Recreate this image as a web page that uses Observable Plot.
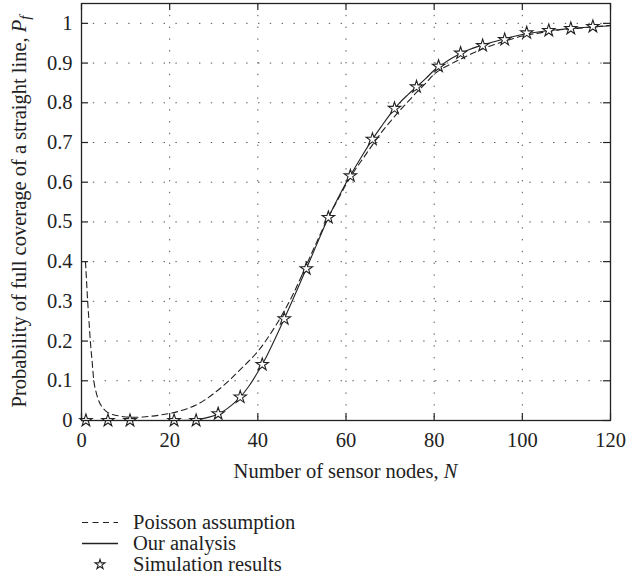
<!DOCTYPE html>
<html>
<head>
<meta charset="utf-8">
<script src="https://cdn.jsdelivr.net/npm/d3@7"></script>
<script src="https://cdn.jsdelivr.net/npm/@observablehq/plot@0.6"></script>
<style>
  html, body { margin: 0; padding: 0; background: #fff; }
  body { width: 638px; height: 583px; overflow: hidden; font-family: "Liberation Serif", serif; }
  #legend { position: relative; margin-top: 0; }
  .row { display: flex; align-items: center; height: 21px; }
  .row svg { display: block; }
  .row span { font-size: 20.5px; color: #222; }
</style>
</head>
<body>
<div id="chart"></div>
<div id="legend"></div>
<script>
// ---- data ----
const xTicks = [0, 20, 40, 60, 80, 100, 120];
const yTicks = [0, 0.1, 0.2, 0.3, 0.4, 0.5, 0.6, 0.7, 0.8, 0.9, 1];

const simX = [1, 6, 11, 21, 26, 31, 36, 41, 46, 51, 56, 61, 66, 71, 76, 81, 86, 91, 96, 101, 106, 111, 116];
const simY = [0, 0, 0, 0, 0, 0.017, 0.059, 0.141, 0.256, 0.382, 0.511, 0.616, 0.708, 0.786, 0.840, 0.892, 0.925, 0.944, 0.959, 0.976, 0.982, 0.987, 0.992];

const analysisX = [0, 5, 10, 15, 20, 24, 26, 28, 30, 32, 34, 36, 38, 40, 42, 44, 46, 48, 50, 52, 54, 56, 58, 60, 62, 64, 66, 68, 70, 72, 74, 76, 78, 80, 82, 84, 86, 88, 90, 92, 94, 96, 98, 100, 104, 108, 112, 116, 120];
const analysisY = [0, 0, 0, 0, 0, 0.0005, 0.002, 0.006, 0.012, 0.022, 0.038, 0.059, 0.087, 0.122, 0.162, 0.208, 0.256, 0.306, 0.357, 0.408, 0.46, 0.511, 0.556, 0.598, 0.636, 0.673, 0.708, 0.74, 0.771, 0.798, 0.82, 0.840, 0.86, 0.882, 0.898, 0.912, 0.924, 0.934, 0.942, 0.949, 0.955, 0.961, 0.967, 0.972, 0.979, 0.984, 0.988, 0.991, 0.994];

const poissonX = [0.9, 1.1, 1.4, 1.7, 2.0, 2.4, 2.8, 3.3, 3.9, 4.6, 5.4, 6.5, 8, 10, 12, 14, 16, 18, 20, 22, 24, 26, 28, 30, 32, 34, 36, 38, 40, 42, 44, 46, 48, 50, 52, 54, 56, 58, 60, 62, 64, 66, 68, 70, 72, 74, 76, 78, 80, 82, 84, 86, 88, 90, 92, 94, 96, 98, 100, 104, 108, 112, 116, 120];
const poissonY = [0.40, 0.36, 0.30, 0.25, 0.20, 0.15, 0.10, 0.072, 0.05, 0.035, 0.025, 0.017, 0.0126, 0.009, 0.008, 0.009, 0.011, 0.014, 0.018, 0.023, 0.03, 0.039, 0.052, 0.068, 0.086, 0.106, 0.128, 0.15, 0.174, 0.204, 0.238, 0.276, 0.318, 0.366, 0.416, 0.465, 0.512, 0.553, 0.594, 0.63, 0.662, 0.694, 0.725, 0.752, 0.778, 0.802, 0.826, 0.848, 0.872, 0.887, 0.899, 0.91, 0.921, 0.931, 0.94, 0.948, 0.955, 0.962, 0.968, 0.976, 0.983, 0.987, 0.991, 0.995];

const seriesNames = ["Poisson assumption", "Our analysis", "Simulation results"];
const xLabel = "Number of sensor nodes, ";
const xLabelVar = "N";
const yLabel = "Probability of full coverage of a straight line, ";
const yLabelVar = "P";
const yLabelSub = "f";

// ---- build tables ----
const sim = simX.map((x, i) => ({x, y: simY[i]}));
const analysis = analysisX.map((x, i) => ({x, y: analysisY[i]}));
const poisson = poissonX.map((x, i) => ({x, y: poissonY[i]}));

const W = 638, H = 495;
const mL = 81, mR = 28, mT = 3, mB = H - 420;
const innerH = H - mT - mB, innerW = W - mL - mR;
const tickLen = 7;
const ink = "#222";

const chart = Plot.plot({
  width: W, height: H,
  marginLeft: mL, marginRight: mR, marginTop: mT, marginBottom: mB,
  style: {fontFamily: "'Liberation Serif', serif", fontSize: "20.5px", color: ink, background: "white"},
  x: {domain: [0, 120], ticks: xTicks},
  y: {domain: [0, 1.05], ticks: yTicks},
  marks: [
    Plot.gridX(xTicks.slice(1, -1), {stroke: "#555", strokeOpacity: 1, strokeDasharray: "1.4,10.4", strokeWidth: 1}),
    Plot.gridY(yTicks.slice(1), {stroke: "#555", strokeOpacity: 1, strokeDasharray: "1.4,10.4", strokeWidth: 1}),
    // inside ticks on all four sides
    Plot.tickX(xTicks, {x: d => d, insetTop: innerH - tickLen, stroke: ink, strokeWidth: 1.2}),
    Plot.tickX(xTicks, {x: d => d, insetBottom: innerH - tickLen, stroke: ink, strokeWidth: 1.2}),
    Plot.tickY(yTicks, {y: d => d, insetRight: innerW - tickLen, stroke: ink, strokeWidth: 1.2}),
    Plot.tickY(yTicks, {y: d => d, insetLeft: innerW - tickLen, stroke: ink, strokeWidth: 1.2}),
    Plot.axisX(xTicks, {tickSize: 0, tickPadding: 12, label: null, fill: ink}),
    Plot.axisY(yTicks, {tickSize: 0, tickPadding: 9, label: null, tickFormat: d3.format("~g"), fill: ink}),
    Plot.line(poisson, {x: "x", y: "y", curve: "monotone-x", stroke: ink, strokeWidth: 1.1, strokeDasharray: "6,4"}),
    Plot.line(analysis, {x: "x", y: "y", curve: "monotone-x", stroke: ink, strokeWidth: 1.1}),
    Plot.dot(sim, {x: "x", y: "y", symbol: "star", r: 3.9, fill: "white", stroke: ink, strokeWidth: 1.1}),
    Plot.frame({stroke: ink, strokeWidth: 1.3})
  ]
});

// axis titles with italic variables
const svg = d3.select(chart);
const xs = chart.scale("x"), ys = chart.scale("y");
const cx = (xs.range[0] + xs.range[1]) / 2;
const cy = (ys.range[0] + ys.range[1]) / 2;
const xt = svg.append("text")
  .attr("x", cx).attr("y", 478).attr("text-anchor", "middle")
  .attr("font-size", 20.5).attr("fill", ink);
xt.append("tspan").text(xLabel);
xt.append("tspan").attr("font-style", "italic").text(xLabelVar);

const yt = svg.append("text")
  .attr("transform", `translate(26,${cy}) rotate(-90)`)
  .attr("text-anchor", "middle").attr("font-size", 20.5).attr("fill", ink);
yt.append("tspan").text(yLabel);
yt.append("tspan").attr("font-style", "italic").text(yLabelVar);
yt.append("tspan").attr("font-style", "italic").attr("font-size", 15).attr("dy", 4).text(yLabelSub);

document.getElementById("chart").appendChild(chart);

// legend
const legend = d3.select("#legend").style("padding-top", "17px").style("padding-left", "82px");
seriesNames.forEach((name, i) => {
  const row = legend.append("div").attr("class", "row");
  const s = row.append("svg").attr("width", 36).attr("height", 21);
  if (i === 0) s.append("line").attr("x1", 0).attr("x2", 36).attr("y1", 10.5).attr("y2", 10.5)
    .attr("stroke", ink).attr("stroke-width", 1.2).attr("stroke-dasharray", "6,4.5");
  if (i === 1) s.append("line").attr("x1", 0).attr("x2", 36).attr("y1", 10.5).attr("y2", 10.5)
    .attr("stroke", ink).attr("stroke-width", 1.3);
  if (i === 2) s.append("path").attr("transform", "translate(18,10.5)")
    .attr("d", d3.symbol(d3.symbolStar, 30)()).attr("fill", "white").attr("stroke", ink).attr("stroke-width", 1.1);
  row.append("span").style("margin-left", "15px").text(name);
});
</script>
</body>
</html>
